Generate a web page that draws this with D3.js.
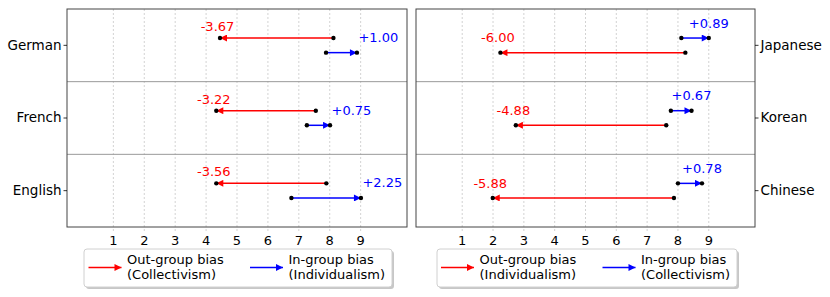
<!DOCTYPE html>
<meta charset="utf-8">
<style>
  body { margin: 0; background: #fff; }
  text { font-family: "DejaVu Sans", sans-serif; }
  .grid line { stroke: #c8c8c8; stroke-width: 0.8; stroke-dasharray: 2,2; }
  .frame { fill: none; stroke: #444; stroke-width: 1; }
  .sep { stroke: #999; stroke-width: 1; }
</style>
<body>
<script src="https://d3js.org/d3.v7.min.js"></script>
<script>

var width = 830,
    height = 297;

// left panel
var leftLangs = ["German", "French", "English"];
var leftRedStart = [8.12, 7.55, 7.89];
var leftRedEnd = [4.45, 4.33, 4.33];
var leftBlueStart = [7.88, 7.26, 6.76];
var leftBlueEnd = [8.88, 8.01, 9.01];
var leftRedLabels = ["-3.67", "-3.22", "-3.56"];
var leftBlueLabels = ["+1.00", "+0.75", "+2.25"];
var leftLegend = ["Out-group bias", "(Collectivism)", "In-group bias", "(Individualism)"];

// right panel
var rightLangs = ["Japanese", "Korean", "Chinese"];
var rightRedStart = [8.24, 7.62, 7.87];
var rightRedEnd = [2.24, 2.74, 1.99];
var rightBlueStart = [8.11, 7.77, 8.00];
var rightBlueEnd = [9.00, 8.44, 8.78];
var rightRedLabels = ["-6.00", "-4.88", "-5.88"];
var rightBlueLabels = ["+0.89", "+0.67", "+0.78"];
var rightLegend = ["Out-group bias", "(Individualism)", "In-group bias", "(Collectivism)"];

var xTicks = [1, 2, 3, 4, 5, 6, 7, 8, 9];

var svg = d3.select("body").append("svg")
    .attr("width", width)
    .attr("height", height);

var defs = svg.append("defs");
function marker(id, color, w, h) {
  defs.append("marker")
      .attr("id", id)
      .attr("viewBox", "0 0 10 10")
      .attr("refX", 10).attr("refY", 5)
      .attr("markerUnits", "userSpaceOnUse")
      .attr("markerWidth", w).attr("markerHeight", h)
      .attr("orient", "auto")
    .append("path")
      .attr("d", "M0,0L10,5L0,10Z")
      .attr("fill", color);
}
marker("headRed", "red", 10, 7);
marker("headBlue", "blue", 10, 7);
marker("legRed", "red", 10, 7);
marker("legBlue", "blue", 10, 7);

function panel(opt) {
  var x = d3.scaleLinear().domain([-0.5, 10.5]).range([opt.x0, opt.x1]);
  var y = d3.scaleBand().domain(opt.langs).range([9, 227]);
  var g = svg.append("g");

  g.append("g").attr("class", "grid")
    .selectAll("line").data(xTicks).enter().append("line")
      .attr("x1", d => x(d)).attr("x2", d => x(d))
      .attr("y1", 9).attr("y2", 231);

  g.selectAll(".sep").data(opt.langs.slice(1)).enter().append("line")
      .attr("class", "sep")
      .attr("x1", opt.x0).attr("x2", opt.x1)
      .attr("y1", d => y(d)).attr("y2", d => y(d));

  g.append("rect").attr("class", "frame")
      .attr("x", opt.x0).attr("y", 9)
      .attr("width", opt.x1 - opt.x0).attr("height", 218);

  // x tick labels
  g.selectAll(".xt").data(xTicks).enter().append("text")
      .attr("x", d => x(d)).attr("y", 240)
      .attr("text-anchor", "middle").attr("dominant-baseline", "central")
      .attr("font-size", 13).text(d => d);

  // y axis
  var yAxis = opt.side === "left" ? d3.axisLeft(y) : d3.axisRight(y);
  var ya = g.append("g")
      .attr("transform", "translate(" + (opt.side === "left" ? opt.x0 : opt.x1) + ",0)")
      .call(yAxis.tickSize(3.5).tickPadding(2));
  ya.select(".domain").remove();
  ya.selectAll("line").attr("stroke", "#000").attr("stroke-width", 0.8);
  ya.selectAll("text").attr("font-size", 13.5).attr("fill", "#000")
      .attr("font-family", "DejaVu Sans, sans-serif");

  opt.langs.forEach(function(lang, i) {
    var c = y(lang) + y.bandwidth() / 2;
    var redY = opt.blueTop ? c + 7.3 : c - 7.3;
    var blueY = opt.blueTop ? c - 7.3 : c + 7.3;
    var arrows = [
      {s: opt.redStart[i], e: opt.redEnd[i], y: redY, color: "red", head: "headRed"},
      {s: opt.blueStart[i], e: opt.blueEnd[i], y: blueY, color: "blue", head: "headBlue"}
    ];
    arrows.forEach(function(a) {
      g.append("line")
          .attr("x1", x(a.s)).attr("x2", x(a.e))
          .attr("y1", a.y).attr("y2", a.y)
          .attr("stroke", a.color).attr("stroke-width", 1.5)
          .attr("marker-end", "url(#" + a.head + ")");
      g.selectAll(null).data([a.s, a.e]).enter().append("circle")
          .attr("cx", d => x(d)).attr("cy", a.y).attr("r", 2.2)
          .attr("fill", "#000");
    });

    g.append("text")
        .attr("x", x(opt.redEnd[i]) - 2.5)
        .attr("y", redY - (opt.blueTop ? 14.8 : 11.5))
        .attr("text-anchor", "middle").attr("dominant-baseline", "central")
        .attr("font-size", 13).attr("fill", "red")
        .text(opt.redLabels[i]);

    g.append("text")
        .attr("x", opt.blueTop ? x(opt.blueEnd[i]) : x(opt.blueEnd[i]) + 1.5)
        .attr("y", blueY - 15)
        .attr("text-anchor", opt.blueTop ? "middle" : "start")
        .attr("dominant-baseline", "central")
        .attr("font-size", 13).attr("fill", "blue")
        .text(opt.blueLabels[i]);
  });

  // legend
  var L = opt.legend;
  var lg = svg.append("g").attr("transform", "translate(" + L.x + ",249)");
  lg.append("rect")
      .attr("x", 2).attr("y", 2).attr("width", L.w).attr("height", 38)
      .attr("rx", 3).attr("fill", "#999").attr("opacity", 0.55);
  lg.append("rect")
      .attr("width", L.w).attr("height", 38)
      .attr("rx", 3).attr("fill", "#fff").attr("stroke", "#d0d0d0");
  var items = [
    {x: L.a1, color: "red", head: "legRed", t: [opt.legendText[0], opt.legendText[1]]},
    {x: L.a2, color: "blue", head: "legBlue", t: [opt.legendText[2], opt.legendText[3]]}
  ];
  items.forEach(function(it) {
    lg.append("line")
        .attr("x1", it.x).attr("x2", it.x + 33)
        .attr("y1", 18.5).attr("y2", 18.5)
        .attr("stroke", it.color).attr("stroke-width", 1.5)
        .attr("marker-end", "url(#" + it.head + ")");
    lg.selectAll(null).data(it.t).enter().append("text")
        .attr("x", it.x + 38.5)
        .attr("y", (d, k) => 10.5 + k * 14.5)
        .attr("dominant-baseline", "central")
        .attr("font-size", 13).attr("fill", "#000")
        .text(d => d);
  });
}

panel({
  x0: 67, x1: 407, side: "left", blueTop: false,
  langs: leftLangs,
  redStart: leftRedStart, redEnd: leftRedEnd,
  blueStart: leftBlueStart, blueEnd: leftBlueEnd,
  redLabels: leftRedLabels, blueLabels: leftBlueLabels,
  legendText: leftLegend,
  legend: {x: 84, w: 308, a1: 4.5, a2: 166}
});

panel({
  x0: 416, x1: 755, side: "right", blueTop: true,
  langs: rightLangs,
  redStart: rightRedStart, redEnd: rightRedEnd,
  blueStart: rightBlueStart, blueEnd: rightBlueEnd,
  redLabels: rightRedLabels, blueLabels: rightBlueLabels,
  legendText: rightLegend,
  legend: {x: 437, w: 300, a1: 4, a2: 165.5}
});

</script>
</body>
</html>
